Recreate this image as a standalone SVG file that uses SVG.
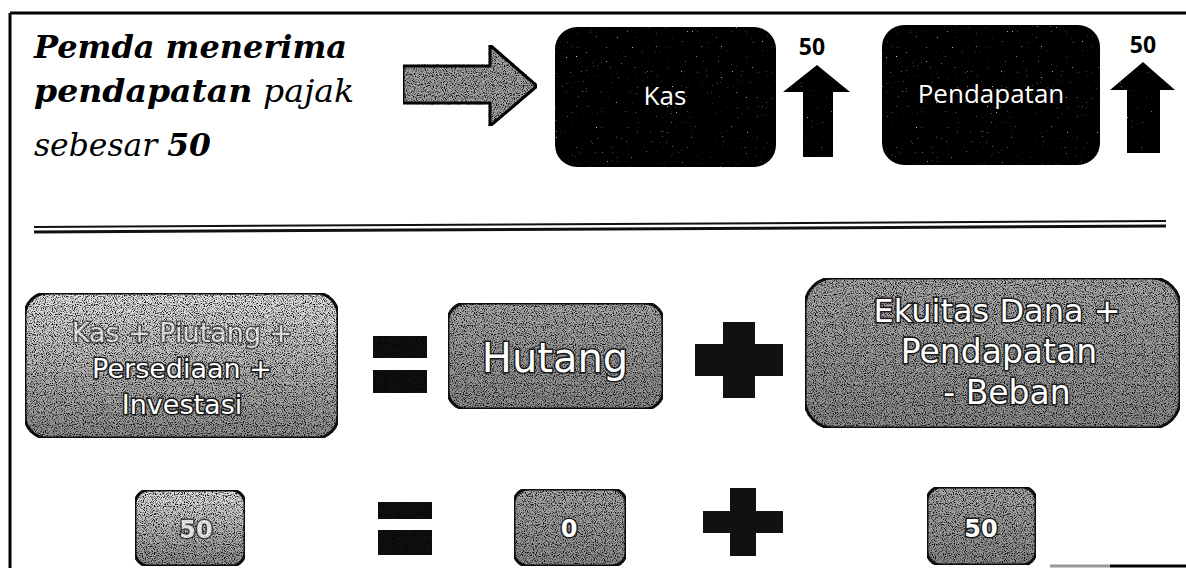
<svg xmlns="http://www.w3.org/2000/svg" width="1186" height="568" viewBox="0 0 1186 568">
<style>
.title{font-family:"DejaVu Serif","Liberation Serif",serif;font-style:italic;font-size:31px;fill:#000}
.b{font-weight:bold}
.dk{stroke:#000;stroke-width:3}
.lbl{font-family:"Open Sans","Liberation Sans",sans-serif;font-size:26px;fill:#fff;text-anchor:middle}
.num{font-family:"Open Sans","Liberation Sans",sans-serif;font-weight:bold;font-size:23px;fill:#000;text-anchor:middle}
.gt{font-family:"DejaVu Sans","Liberation Sans",sans-serif;fill:#fff;stroke:#1a1a1a;stroke-width:3;paint-order:stroke;text-anchor:middle}
.gbox{stroke:#111;stroke-width:3}
</style>
<defs>
<filter id="grain" x="0" y="0" width="100%" height="100%" color-interpolation-filters="sRGB">
<feTurbulence type="fractalNoise" baseFrequency="0.9" numOctaves="1" seed="7" result="t"/>
<feColorMatrix in="t" type="matrix" values="0 0 0 0 0  0 0 0 0 0  0 0 0 0 0  4 0 0 0 -1.9" result="blk"/>
<feComposite in="blk" in2="SourceAlpha" operator="in" result="blk2"/>
<feMerge><feMergeNode in="SourceGraphic"/><feMergeNode in="blk2"/></feMerge>
</filter>
<filter id="grainDark" x="0" y="0" width="100%" height="100%" color-interpolation-filters="sRGB">
<feTurbulence type="fractalNoise" baseFrequency="0.8" numOctaves="1" seed="3" result="t"/>
<feColorMatrix in="t" type="matrix" values="0 0 0 0 1  0 0 0 0 1  0 0 0 0 1  7 0 0 0 -5" result="w"/>
<feComposite in="w" in2="SourceAlpha" operator="in" result="w2"/>
<feMerge><feMergeNode in="SourceGraphic"/><feMergeNode in="w2"/></feMerge>
</filter>
<linearGradient id="g1" x1="0" y1="0" x2="0" y2="1">
<stop offset="0" stop-color="#e2e2e2"/><stop offset="1" stop-color="#8c8c8c"/>
</linearGradient>
<linearGradient id="g2" x1="0" y1="0" x2="0" y2="1">
<stop offset="0" stop-color="#a8a8a8"/><stop offset="1" stop-color="#8a8a8a"/>
</linearGradient>
</defs>
<rect width="1186" height="568" fill="#fff"/>
<g id="frame" fill="none" stroke="#000" stroke-width="3">
<line x1="10" y1="13" x2="1186" y2="13"/>
<line x1="10" y1="13" x2="10" y2="568"/>
<line x1="1110" y1="566" x2="1186" y2="566"/>
<line x1="1050" y1="566" x2="1110" y2="566" stroke="#999"/>
</g>
<g id="title">
<text class="title" x="34" y="58" textLength="313" lengthAdjust="spacingAndGlyphs"><tspan class="b">Pemda menerima</tspan></text>
<text class="title" x="34" y="102" textLength="320" lengthAdjust="spacingAndGlyphs"><tspan class="b">pendapatan</tspan> pajak</text>
<text class="title" x="34" y="156" textLength="177" lengthAdjust="spacingAndGlyphs">sebesar <tspan class="b">50</tspan></text>
</g>
<g id="arrow-right">
<polygon points="403,66 490,66 490,45 537,86 490,126 490,103 403,103" fill="#a0a0a0" class="dk" filter="url(#grain)"/>
</g>
<g id="kas">
<rect x="555" y="27" width="221" height="140" rx="22" fill="#000" filter="url(#grainDark)"/>
<text class="lbl" x="665" y="105">Kas</text>
</g>
<g id="kas-up">
<polygon points="817,65 850,92 833,92 833,157 803,157 803,92 783,92" fill="#000" filter="url(#grainDark)"/>
<text class="num" x="812" y="55">50</text>
</g>
<g id="pendapatan">
<rect x="882" y="25" width="218" height="140" rx="22" fill="#000" filter="url(#grainDark)"/>
<text class="lbl" x="991" y="103">Pendapatan</text>
</g>
<g id="pendapatan-up">
<polygon points="1143,62 1175,90 1160,90 1160,153 1127,153 1127,90 1110,90" fill="#000" filter="url(#grainDark)"/>
<text class="num" x="1143" y="53">50</text>
</g>
<g id="separator" fill="none" stroke="#111">
<line x1="34" y1="227" x2="1166" y2="221" stroke-width="2"/>
<line x1="34" y1="232" x2="1166" y2="226" stroke-width="3"/>
</g>
<g id="aset">
<rect x="25" y="293" width="313" height="145" rx="22" fill="url(#g1)" class="gbox" filter="url(#grain)"/>
<text class="gt" x="182" y="342" font-size="27" opacity="0.6">Kas + Piutang +</text>
<text class="gt" x="182" y="378" font-size="27">Persediaan +</text>
<text class="gt" x="182" y="414" font-size="27">Investasi</text>
</g>
<g id="eq1" fill="#111" filter="url(#grain)">
<rect x="373" y="336" width="54" height="22"/>
<rect x="373" y="370" width="54" height="23"/>
</g>
<g id="hutang">
<rect x="448" y="303" width="215" height="106" rx="18" fill="url(#g2)" class="gbox" filter="url(#grain)"/>
<text class="gt" x="555" y="372" font-size="40">Hutang</text>
</g>
<g id="plus1">
<path d="M723,322 H755 V344 H783 V376 H755 V398 H723 V376 H695 V344 H723 Z" fill="#111"/>
</g>
<g id="ekuitas">
<rect x="805" y="278" width="375" height="150" rx="28" fill="url(#g2)" class="gbox" filter="url(#grain)"/>
<text class="gt" x="997" y="322" font-size="32">Ekuitas Dana +</text>
<text class="gt" x="999" y="363" font-size="33">Pendapatan</text>
<text class="gt" x="1007" y="404" font-size="33">- Beban</text>
</g>
<g id="v-aset">
<rect x="135" y="490" width="110" height="76" rx="14" fill="url(#g1)" class="gbox" filter="url(#grain)"/>
<text class="gt" x="196" y="538" font-size="24" font-weight="bold" opacity="0.7">50</text>
</g>
<g id="eq2" fill="#111" filter="url(#grain)">
<rect x="378" y="502" width="54" height="17"/>
<rect x="378" y="530" width="54" height="25"/>
</g>
<g id="v-hutang">
<rect x="514" y="489" width="112" height="77" rx="14" fill="url(#g2)" class="gbox" filter="url(#grain)"/>
<text class="gt" x="569" y="537" font-size="24" font-weight="bold">0</text>
</g>
<g id="plus2">
<path d="M730,488 H756 V511 H783 V533 H756 V556 H730 V533 H703 V511 H730 Z" fill="#111"/>
</g>
<g id="v-ekuitas">
<rect x="927" y="487" width="109" height="78" rx="14" fill="url(#g2)" class="gbox" filter="url(#grain)"/>
<text class="gt" x="981" y="537" font-size="24" font-weight="bold">50</text>
</g>
</svg>
